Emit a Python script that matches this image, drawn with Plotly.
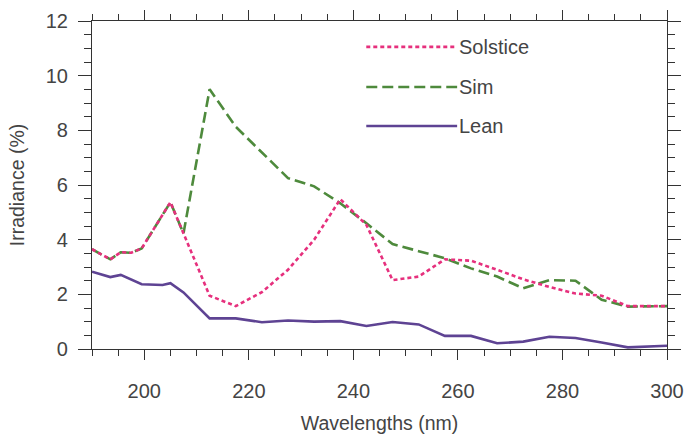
import plotly.graph_objects as go

wavelengths = [190, 193.5, 195.5, 197.5, 199.5, 203.5, 205, 207.5, 212.5, 217.5, 222.5,
               227.5, 232.5, 237.5, 242.5, 247.5, 252.5, 257.5, 262.5, 267.5, 272.5,
               277.5, 282.5, 287.5, 292.5, 300]
solstice = [3.65, 3.28, 3.54, 3.52, 3.68, 4.9, 5.37, 4.23, 1.95, 1.57, 2.08,
            2.9, 4.0, 5.48, 4.54, 2.52, 2.65, 3.28, 3.23, 2.9, 2.55,
            2.27, 2.03, 1.95, 1.57, 1.57]
sim = [3.65, 3.28, 3.54, 3.52, 3.68, 4.9, 5.37, 4.23, 9.5, 8.13, 7.2,
       6.25, 5.95, 5.33, 4.6, 3.84, 3.58, 3.32, 2.95, 2.65, 2.22,
       2.52, 2.5, 1.8, 1.55, 1.57]
lean = [2.83, 2.63, 2.71, 2.55, 2.37, 2.34, 2.41, 2.07, 1.12, 1.12, 0.98,
        1.04, 1.0, 1.02, 0.84, 0.99, 0.9, 0.48, 0.48, 0.21, 0.27,
        0.45, 0.4, 0.24, 0.06, 0.12]

series_names = ["Solstice", "Sim", "Lean"]
series_values = [solstice, sim, lean]
colors = ["#e6307d", "#4e8a3c", "#5e4393"]
dashes = ["4px,3px", "11px,5px", "solid"]

FONT = "Liberation Sans, Arial, sans-serif"
TXT = "#444444"

fig = go.Figure()
# draw Lean first, then Sim, then Solstice on top
for i in [2, 1, 0]:
    fig.add_trace(go.Scatter(
        x=wavelengths, y=series_values[i], mode="lines", name=series_names[i],
        line=dict(color=colors[i], width=2.6, dash=dashes[i]),
        showlegend=False))

# manual legend (long line samples like the reference)
legend_y = [0.921, 0.799, 0.680]
for i in range(3):
    fig.add_shape(type="line", xref="paper", yref="paper",
                  x0=0.477, x1=0.635, y0=legend_y[i], y1=legend_y[i],
                  line=dict(color=colors[i], width=2.6, dash=dashes[i]))
    fig.add_annotation(xref="paper", yref="paper", x=0.634, y=legend_y[i],
                       text=series_names[i], showarrow=False, xanchor="left",
                       yanchor="middle", font=dict(family=FONT, size=20, color=TXT))

axis_common = dict(
    showline=True, linecolor="#333333", linewidth=1.2, mirror="ticks",
    ticks="outside", tickcolor="#333333", tickwidth=1,
    showgrid=False, zeroline=False, automargin=False,
    tickfont=dict(family=FONT, size=20, color=TXT),
)

fig.update_xaxes(range=[190, 300], tick0=200, dtick=20, ticklen=10,
                 minor=dict(dtick=5, tick0=190, ticklen=6, ticks="outside", tickcolor="#333333", showgrid=False),
                 ticklabelstandoff=14,
                 title=dict(text="Wavelengths (nm)", font=dict(family=FONT, size=19.5, color=TXT), standoff=15),
                 **axis_common)
fig.update_yaxes(range=[0, 12], tick0=0, dtick=2, ticklen=13,
                 minor=dict(dtick=0.5, tick0=0, ticklen=7, ticks="outside", tickcolor="#333333", showgrid=False),
                 ticklabelstandoff=6,
                 title=dict(text="Irradiance (%)", font=dict(family=FONT, size=19.5, color=TXT), standoff=15),
                 **axis_common)

fig.update_layout(
    width=685, height=434,
    margin=dict(l=92, r=18, t=21, b=85),
    plot_bgcolor="white", paper_bgcolor="white",
    font=dict(family=FONT, color=TXT),
)

fig.write_html("out.html")
